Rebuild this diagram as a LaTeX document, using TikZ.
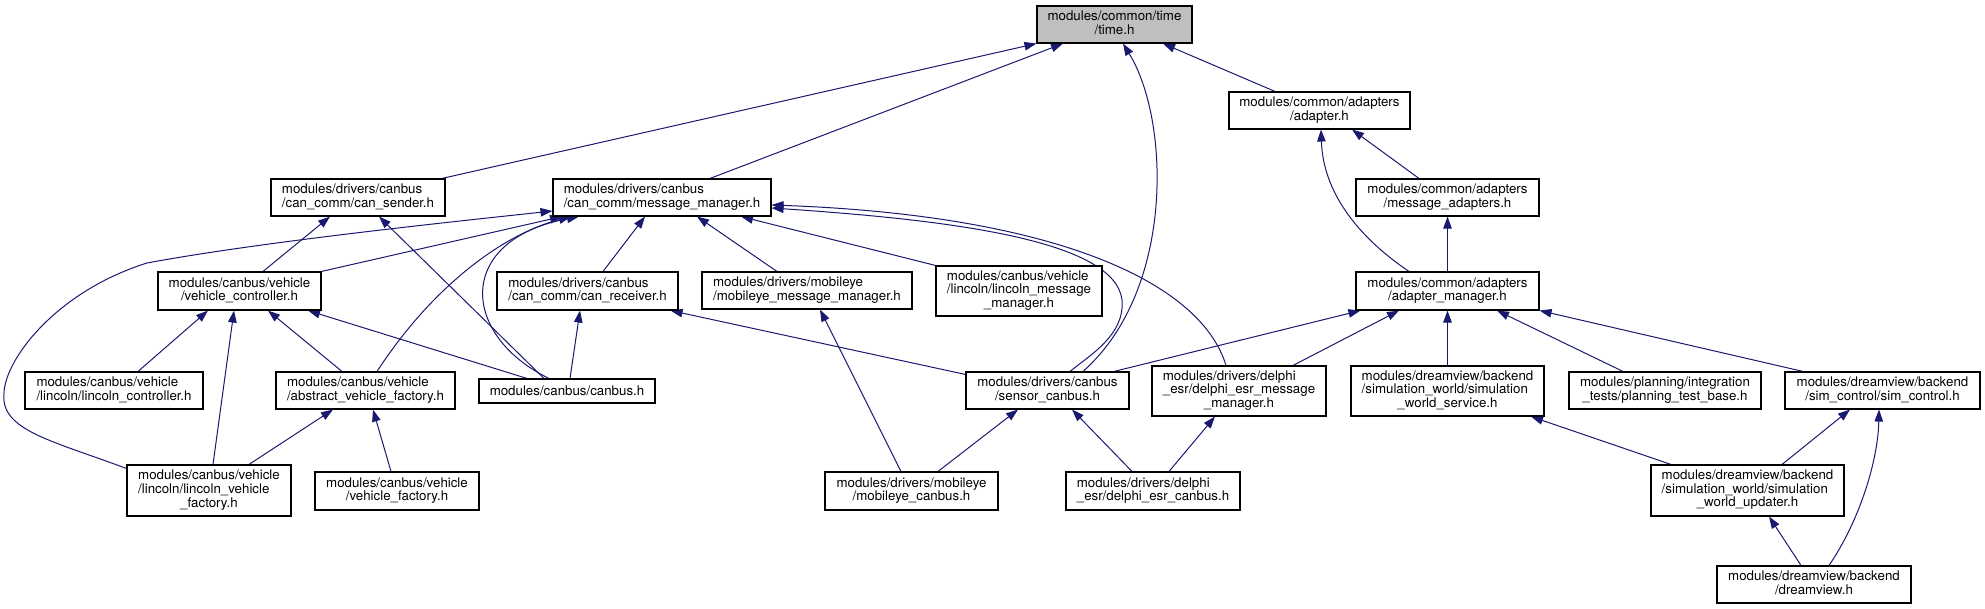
\documentclass[tikz,border=0pt]{standalone}
\usepackage{fontspec}
\setmainfont{TeX Gyre Heros}
\usetikzlibrary{arrows.meta,backgrounds}
\definecolor{edgeblue}{HTML}{191970}
\definecolor{grayfill}{HTML}{BFBFBF}
\newcommand{\flab}[2]{\begin{tabular}{@{}l@{}}#1\\\multicolumn{1}{@{}c@{}}{#2}\end{tabular}}
\tikzset{
  box/.style={draw=black, line width=1.1pt, fill=white, inner sep=0pt, align=center,
    font=\fontsize{13.3}{13}\selectfont},
  dep/.style={draw=edgeblue, line width=1pt, -{Triangle[length=12pt,width=8.5pt]}}
}
\begin{document}
\begin{tikzpicture}[x=1pt,y=-1pt]
\useasboundingbox (0,0) rectangle (1985,609);
% nodes
\node[box,fill=grayfill,minimum width=155pt,minimum height=37pt] (time) at (1114.5,24.5) {\flab{modules/common/time}{/time.h}};
\node[box,minimum width=181pt,minimum height=37pt] (adapter) at (1319.5,110.5) {\flab{modules/common/adapters}{/adapter.h}};
\node[box,minimum width=174pt,minimum height=37pt] (cansender) at (358,197.5) {\flab{modules/drivers/canbus}{/can\_comm/can\_sender.h}};
\node[box,minimum width=218pt,minimum height=37pt] (msgmgr) at (662,197.5) {\flab{modules/drivers/canbus}{/can\_comm/message\_manager.h}};
\node[box,minimum width=183pt,minimum height=37pt] (msgadapters) at (1447.5,197.5) {\flab{modules/common/adapters}{/message\_adapters.h}};
\node[box,minimum width=163pt,minimum height=38pt] (vehctrl) at (239.5,291) {\flab{modules/canbus/vehicle}{/vehicle\_controller.h}};
\node[box,minimum width=181pt,minimum height=38pt] (canrecv) at (587.5,291) {\flab{modules/drivers/canbus}{/can\_comm/can\_receiver.h}};
\node[box,minimum width=210pt,minimum height=37pt] (mobmm) at (807,290.5) {\flab{modules/drivers/mobileye}{/mobileye\_message\_manager.h}};
\node[box,minimum width=166pt,minimum height=50pt] (linmm) at (1019,291) {\flab{modules/canbus/vehicle\\/lincoln/lincoln\_message}{\_manager.h}};
\node[box,minimum width=183pt,minimum height=38pt] (adapmgr) at (1447.5,291) {\flab{modules/common/adapters}{/adapter\_manager.h}};
\node[box,minimum width=178pt,minimum height=37pt] (linctrl) at (114,390.5) {\flab{modules/canbus/vehicle}{/lincoln/lincoln\_controller.h}};
\node[box,minimum width=179pt,minimum height=37pt] (avf) at (365.5,390.5) {\flab{modules/canbus/vehicle}{/abstract\_vehicle\_factory.h}};
\node[box,minimum width=176pt,minimum height=24pt] (canbus) at (567,391) {modules/canbus/canbus.h};
\node[box,minimum width=163pt,minimum height=37pt] (sensor) at (1047.5,390.5) {\flab{modules/drivers/canbus}{/sensor\_canbus.h}};
\node[box,minimum width=174pt,minimum height=50pt] (delmm) at (1239,391) {\flab{modules/drivers/delphi\\\_esr/delphi\_esr\_message}{\_manager.h}};
\node[box,minimum width=193pt,minimum height=50pt] (sws) at (1447.5,391) {\flab{modules/dreamview/backend\\/simulation\_world/simulation}{\_world\_service.h}};
\node[box,minimum width=192pt,minimum height=37pt] (ptb) at (1665,390.5) {\flab{modules/planning/integration}{\_tests/planning\_test\_base.h}};
\node[box,minimum width=195pt,minimum height=37pt] (simctrl) at (1882.5,390.5) {\flab{modules/dreamview/backend}{/sim\_control/sim\_control.h}};
\node[box,minimum width=164pt,minimum height=51pt] (lvf) at (209,490.5) {\flab{modules/canbus/vehicle\\/lincoln/lincoln\_vehicle}{\_factory.h}};
\node[box,minimum width=164pt,minimum height=38pt] (vf) at (397,491) {\flab{modules/canbus/vehicle}{/vehicle\_factory.h}};
\node[box,minimum width=173pt,minimum height=38pt] (mobcan) at (911.5,491) {\flab{modules/drivers/mobileye}{/mobileye\_canbus.h}};
\node[box,minimum width=174pt,minimum height=38pt] (delcan) at (1153,491) {\flab{modules/drivers/delphi}{\_esr/delphi\_esr\_canbus.h}};
\node[box,minimum width=193pt,minimum height=51pt] (swu) at (1747.5,490.5) {\flab{modules/dreamview/backend\\/simulation\_world/simulation}{\_world\_updater.h}};
\node[box,minimum width=194pt,minimum height=37pt] (dream) at (1814,584.5) {\flab{modules/dreamview/backend}{/dreamview.h}};
% edges
\begin{scope}[on background layer]
\draw[dep] ([xshift=84pt]cansender.north) -- (time.south west);
\draw[dep] ([xshift=48pt]msgmgr.north) -- ([xshift=-51.5pt]time.south);
\draw[dep] ([xshift=35.5pt]sensor.north) .. controls (1175,290) and (1170,120) .. ([xshift=8.5pt]time.south);
\draw[dep] ([xshift=-44.5pt]adapter.north) -- ([xshift=48.5pt]time.south);
\draw[dep] ([xshift=-28.5pt]msgadapters.north) -- ([xshift=32.5pt]adapter.south);
\draw[dep] ([xshift=-38.5pt]adapmgr.north) .. controls (1355,235) and (1323,190) .. ([xshift=1.5pt]adapter.south);
\draw[dep] (adapmgr.north) -- (msgadapters.south);
\draw[dep] ([xshift=15.5pt]canrecv.north) -- ([xshift=-17pt]msgmgr.south);
\draw[dep] ([xshift=-30pt]mobmm.north) -- ([xshift=35pt]msgmgr.south);
\draw[dep] (linmm.north west) -- ([xshift=79pt]msgmgr.south);
\draw[dep] (vehctrl.north east) -- ([xshift=-100pt]msgmgr.south);
\draw[dep] ([yshift=-4pt]lvf.north west) .. controls (50,440) and (0,430) .. (4,393)
  .. controls (5,360) and (55,292) .. (147,263)
  .. controls (260,242) and (450,222) .. ([yshift=-13.5pt]msgmgr.west);
\draw[dep] ([xshift=11.5pt]avf.north) .. controls (430,290) and (500,235) .. ([xshift=-91pt]msgmgr.south);
\draw[dep] ([xshift=-18pt]canbus.north) .. controls (460,335) and (455,240) .. ([xshift=-83pt]msgmgr.south);
\draw[dep] ([xshift=22.5pt]sensor.north) .. controls (1090,355) and (1125,335) .. (1122,300)
  .. controls (1115,240) and (950,220) .. ([yshift=-10.5pt]msgmgr.east);
\draw[dep] ([xshift=-13pt]delmm.north) .. controls (1200,280) and (1050,215) .. ([yshift=-7.5pt]msgmgr.east);
\draw[dep] ([xshift=23.5pt]vehctrl.north) -- ([xshift=-28pt]cansender.south);
\draw[dep] ([xshift=-23pt]canbus.north) -- ([xshift=21pt]cansender.south);
\draw[dep] ([xshift=24pt]linctrl.north) -- ([xshift=-31.5pt]vehctrl.south);
\draw[dep] ([xshift=4pt]lvf.north) -- ([xshift=-5.5pt]vehctrl.south);
\draw[dep] ([xshift=-23.5pt]avf.north) -- ([xshift=28.5pt]vehctrl.south);
\draw[dep] ([xshift=-40pt]canbus.north) -- ([xshift=68.5pt]vehctrl.south);
\draw[dep] ([xshift=40pt]lvf.north) -- ([xshift=-32.5pt]avf.south);
\draw[dep] ([xshift=-6pt]vf.north) -- ([xshift=7.5pt]avf.south);
\draw[dep] ([xshift=3pt]canbus.north) -- ([xshift=-7.5pt]canrecv.south);
\draw[dep] ([yshift=-3pt]sensor.north west) -- ([xshift=-8pt]canrecv.south east);
\draw[dep] ([xshift=-10.5pt]mobcan.north) -- ([xshift=13pt]mobmm.south);
\draw[dep] ([xshift=26.5pt]mobcan.north) -- ([xshift=-29.5pt]sensor.south);
\draw[dep] ([xshift=-21pt]delcan.north) -- ([xshift=24.5pt]sensor.south);
\draw[dep] ([xshift=16pt]delcan.north) -- ([xshift=-24pt]delmm.south);
\draw[dep] ([xshift=66.5pt]sensor.north) -- ([xshift=5pt]adapmgr.south west);
\draw[dep] ([xshift=54pt]delmm.north) -- ([xshift=-48.5pt]adapmgr.south);
\draw[dep] (sws.north) -- (adapmgr.south);
\draw[dep] ([xshift=-42pt]ptb.north) -- ([xshift=49.5pt]adapmgr.south);
\draw[dep] ([xshift=-79.5pt]simctrl.north) -- (adapmgr.south east);
\draw[dep] ([xshift=-76.5pt]swu.north) -- ([xshift=83.5pt]sws.south);
\draw[dep] ([xshift=34.5pt]swu.north) -- ([xshift=-32.5pt]simctrl.south);
\draw[dep] ([xshift=-13pt]dream.north) -- ([xshift=21.5pt]swu.south);
\draw[dep] ([xshift=15pt]dream.north) .. controls (1860,520) and (1878,460) .. ([xshift=-3.5pt]simctrl.south);
\end{scope}
\end{tikzpicture}
\end{document}
